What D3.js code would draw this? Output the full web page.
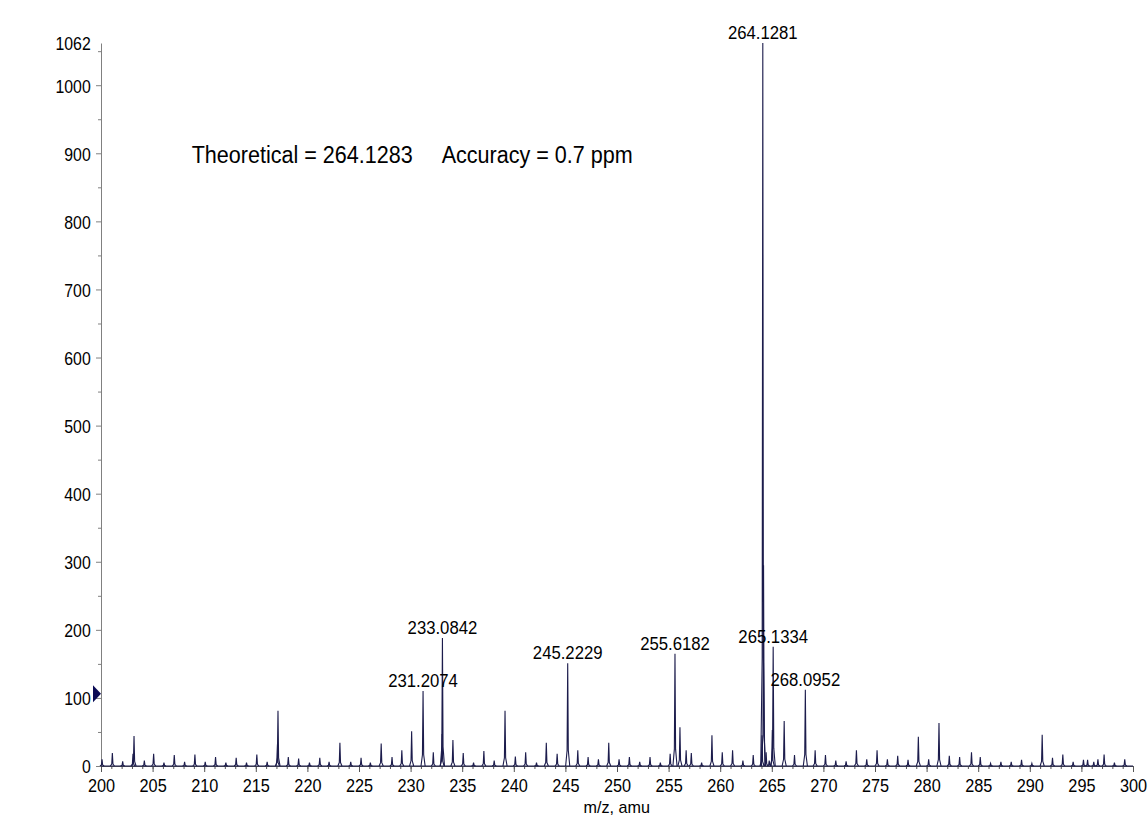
<!DOCTYPE html>
<html><head><meta charset="utf-8">
<script src="https://cdn.jsdelivr.net/npm/d3@7"></script>
<style>body{margin:0;background:#fff}svg{display:block}</style>
</head><body><svg id="c" width="1148" height="816"></svg>
<script>
// ---- data ----
const peakMz = [200.1,201.1,202.1,203.1,203.2,204.2,205.1,206.1,207.1,208.1,209.1,210.1,211.1,212.1,213.1,214.1,215.1,216.1,217.1,217.15,218.15,219.15,
220.2,221.2,222.1,223.15,224.2,225.2,226.1,227.15,228.2,229.15,230.1,231.2074,232.2,233.05,233.0842,234.1,235.1,236.1,237.1,238.1,239.15,240.15,241.15,242.2,243.15,244.2,245.2229,246.2,247.2,248.2,249.2,
250.2,251.2,252.2,253.2,254.2,255.15,255.6182,256.1,256.7,257.2,258.2,259.2,260.2,261.2,262.2,263.2,264.05,264.1281,264.2,264.45,264.75,265.05,265.1334,266.2,267.2,268.25,269.2,
270.2,271.2,272.2,273.2,274.2,275.2,276.2,277.2,278.2,279.2,280.2,281.2,282.2,283.2,284.35,285.2,286.2,287.2,288.2,289.2,290.2,291.2,292.2,293.2,294.2,295.2,295.6,296.2,296.6,297.2,298.2,299.2];
const peakInt = [10,19,7,18,44,8,18,5,16,6,17,6,13,5,12,5,17,6,32,81,13,11,
5,12,6,34,6,12,5,33,13,23,51,110,20,47,188,38,19,5,22,8,81,14,20,5,34,18,151,23,13,10,34,
10,13,6,13,5,18,165,57,23,19,5,45,20,23,8,16,45,1062,295,20,8,53,175,66,16,112,23,
16,8,7,23,10,23,10,15,9,43,10,63,15,13,20,13,4,6,6,9,4,46,12,17,6,9,9,6,10,17,5,10];
const labelMz   = [264.1281, 233.0842, 231.2074, 245.2229, 255.6182, 265.1334, 268.25];
const labelText = ["264.1281","233.0842","231.2074","245.2229","255.6182","265.1334","268.0952"];
const labelInt  = [1062, 188, 110, 151, 165, 175, 112];
const yTicks = [0,100,200,300,400,500,600,700,800,900,1000,1062];
const yMinor = [50,150,250,350,450,550,650,750,850,950,1050];
const xTicks = d3.range(200, 301, 5);
const xMinor = d3.range(200, 301, 1);
const yMax = 1062;
const markerValue = 106;
const noteLeft = "Theoretical = 264.1283";
const noteRight = "Accuracy = 0.7 ppm";
const xTitle = "m/z, amu";

// ---- layout ----
const FONT = "'Liberation Sans', Arial, sans-serif";
const SX = 0.88;
const ink = "#1c1c4c";
const svg = d3.select("#c");
const x = d3.scaleLinear().domain([200, 300]).range([101, 1133]);
const y = d3.scaleLinear().domain([0, yMax]).range([766, 43]);

function txt(px, py, str, size, anchor, sx) {
  svg.append("text")
    .attr("transform", `translate(${px},${py}) scale(${sx || SX},1)`)
    .attr("font-family", FONT).attr("font-size", size)
    .attr("text-anchor", anchor).attr("fill", "#000").text(str);
}

// y axis
const yAx = svg.append("g").attr("transform", `translate(${x(200)},0)`)
  .call(d3.axisLeft(y).tickValues(yTicks).tickFormat(d3.format("d")).tickSize(5).tickSizeOuter(0));
yAx.select(".domain").attr("stroke", "#808080");
yAx.selectAll(".tick line").attr("stroke", "#808080");
yAx.selectAll(".tick").filter(d => d === yMax).select("line").remove();
yAx.selectAll(".tick text")
  .attr("font-family", FONT).attr("font-size", 18).attr("fill", "#000")
  .attr("x", -10.3 / SX).attr("dy", "0.38em")
  .attr("transform", `scale(${SX},1)`);
const yMi = svg.append("g").attr("transform", `translate(${x(200)},0)`)
  .call(d3.axisLeft(y).tickValues(yMinor).tickSize(3).tickFormat(""));
yMi.select(".domain").remove();
yMi.selectAll(".tick line").attr("stroke", "#808080");

// x axis
const xAx = svg.append("g").attr("transform", `translate(0,${y(0)})`)
  .call(d3.axisBottom(x).tickValues(xTicks).tickFormat(d3.format("d")).tickSize(6).tickSizeOuter(0));
xAx.select(".domain").attr("stroke", "#555");
xAx.selectAll(".tick line").attr("stroke", "#555");
xAx.selectAll(".tick text")
  .attr("font-family", FONT).attr("font-size", 18.5).attr("fill", "#000")
  .attr("y", 13).attr("dy", "0.71em")
  .attr("transform", `scale(${SX},1)`);
const xMi = svg.append("g").attr("transform", `translate(0,${y(0)})`)
  .call(d3.axisBottom(x).tickValues(xMinor).tickSize(3).tickFormat(""));
xMi.select(".domain").remove();
xMi.selectAll(".tick line").attr("stroke", "#555");

// spectrum
const line = d3.line().x(d => x(d[0])).y(d => y(d[1]));
const peaks = peakMz.map((m, i) => [m, peakInt[i]]);
svg.append("g").selectAll("path").data(peaks).join("path")
  .attr("d", d => line([[d[0] - 0.2, 0], [d[0] - 0.06, d[1] * 0.15], [d[0], d[1]], [d[0] + 0.06, d[1] * 0.15], [d[0] + 0.2, 0]]))
  .attr("fill", "none").attr("stroke", ink).attr("stroke-width", 1.1);
svg.append("path").attr("d", line([[200, 0], [300, 0]]))
  .attr("stroke", ink).attr("stroke-width", 1.2).attr("fill", "none");

// marker
const my = y(markerValue);
svg.append("path")
  .attr("d", `M${x(200) - 8},${my - 8.5}L${x(200)},${my}L${x(200) - 8},${my + 8.5}Z`)
  .attr("fill", "#0b0b55");

// peak labels
labelMz.forEach((m, i) => txt(x(m), y(labelInt[i]) - 4, labelText[i], 19, "middle"));

// notes
txt(191.7, 163, noteLeft, 24.5, "start");
txt(441.7, 163, noteRight, 24.5, "start");
txt(616.7, 812.5, xTitle, 17, "middle", 0.95);
</script>
</body></html>
